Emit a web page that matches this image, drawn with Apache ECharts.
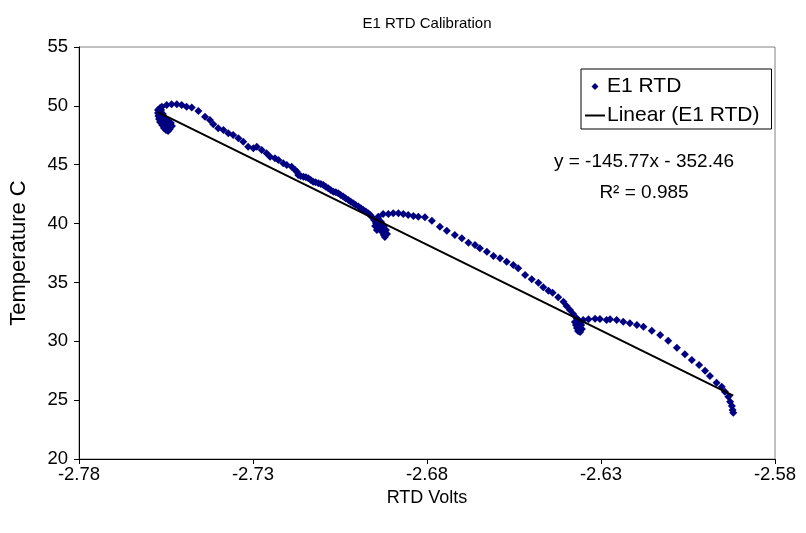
<!DOCTYPE html>
<html>
<head>
<meta charset="utf-8">
<title>E1 RTD Calibration</title>
<script src="https://cdn.jsdelivr.net/npm/echarts@6/dist/echarts.min.js"></script>
<style>
  html, body { margin: 0; padding: 0; background: #fff; }
  #chart { width: 806px; height: 533px; }
</style>
</head>
<body>
<div id="chart"></div>
<script>
  // [RTD volts, temperature C], section by section
  const holdNear49 = [
    [-2.7544, 47.87], [-2.7539, 48.04], [-2.7533, 48.29], [-2.7536, 48.55], [-2.7544, 48.72],
    [-2.7553, 48.97], [-2.7559, 49.31], [-2.7564, 49.65], [-2.7567, 49.82], [-2.7550, 47.95],
    [-2.7556, 48.12], [-2.7561, 48.38], [-2.7567, 48.63], [-2.7570, 48.89], [-2.7572, 49.14],
    [-2.7573, 49.40], [-2.7573, 49.65], [-2.7548, 48.20], [-2.7545, 48.45], [-2.7552, 48.60],
    [-2.7560, 48.80], [-2.7565, 49.00]
  ];
  const coolTo44 = [
    [-2.7562, 49.93], [-2.7548, 50.08], [-2.7534, 50.14], [-2.7519, 50.14], [-2.7505, 50.08],
    [-2.7491, 49.93], [-2.7476, 49.85], [-2.7457, 49.57], [-2.7438, 49.08], [-2.7424, 48.80],
    [-2.7414, 48.44], [-2.7400, 48.10], [-2.7385, 47.95], [-2.7371, 47.67], [-2.7357, 47.53],
    [-2.7342, 47.25], [-2.7328, 46.96], [-2.7314, 46.53], [-2.7299, 46.40], [-2.7289, 46.53],
    [-2.7275, 46.25], [-2.7261, 45.97], [-2.7251, 45.68], [-2.7237, 45.55], [-2.7227, 45.40],
    [-2.7213, 45.12], [-2.7203, 44.98], [-2.7189, 44.83], [-2.7174, 44.41]
  ];
  const coolTo40 = [
    [-2.7179, 44.55], [-2.7170, 44.13], [-2.7163, 44.05], [-2.7155, 43.98], [-2.7148, 43.93],
    [-2.7141, 43.85], [-2.7134, 43.70], [-2.7127, 43.56], [-2.7120, 43.50], [-2.7112, 43.42],
    [-2.7105, 43.36], [-2.7098, 43.28], [-2.7091, 43.12], [-2.7084, 43.00], [-2.7077, 42.86],
    [-2.7069, 42.71], [-2.7062, 42.66], [-2.7055, 42.57], [-2.7048, 42.43], [-2.7041, 42.29],
    [-2.7034, 42.15], [-2.7026, 42.00], [-2.7019, 41.86], [-2.7012, 41.72], [-2.7005, 41.58],
    [-2.6997, 41.44], [-2.6990, 41.30], [-2.6983, 41.16], [-2.6976, 41.02], [-2.6969, 40.88],
    [-2.6964, 40.74], [-2.6959, 40.59]
  ];
  const holdNear39 = [
    [-2.6952, 40.31], [-2.6947, 40.05], [-2.6941, 39.80], [-2.6935, 39.54], [-2.6929, 39.29],
    [-2.6924, 39.03], [-2.6921, 38.86], [-2.6915, 39.12], [-2.6918, 39.46], [-2.6924, 39.80],
    [-2.6932, 40.14], [-2.6941, 40.39], [-2.6944, 39.46], [-2.6949, 39.80]
  ];
  const coolTo36 = [
    [-2.6940, 40.59], [-2.6926, 40.82], [-2.6911, 40.82], [-2.6897, 40.88], [-2.6882, 40.88],
    [-2.6868, 40.82], [-2.6854, 40.73], [-2.6839, 40.65], [-2.6825, 40.59], [-2.6806, 40.54],
    [-2.6786, 40.25], [-2.6763, 39.74], [-2.6743, 39.40], [-2.6720, 39.03], [-2.6700, 38.75],
    [-2.6681, 38.38], [-2.6662, 38.18], [-2.6648, 37.90], [-2.6628, 37.61], [-2.6609, 37.25],
    [-2.6590, 37.05], [-2.6571, 36.76], [-2.6552, 36.48], [-2.6538, 36.20]
  ];
  const coolTo32 = [
    [-2.6518, 35.63], [-2.6499, 35.27], [-2.6480, 34.98], [-2.6466, 34.59], [-2.6451, 34.30],
    [-2.6439, 34.13], [-2.6423, 33.74], [-2.6408, 33.36], [-2.6399, 33.00], [-2.6389, 32.66],
    [-2.6380, 32.32], [-2.6370, 31.95]
  ];
  const holdNear31 = [
    [-2.6375, 31.64], [-2.6372, 31.38], [-2.6369, 31.13], [-2.6366, 30.88], [-2.6360, 30.79],
    [-2.6355, 31.05], [-2.6357, 31.38], [-2.6363, 31.72], [-2.6366, 31.81], [-2.6369, 31.47]
  ];
  const coolTo24 = [
    [-2.6351, 31.81], [-2.6336, 31.87], [-2.6317, 31.92], [-2.6303, 31.89], [-2.6284, 31.81],
    [-2.6274, 31.87], [-2.6255, 31.81], [-2.6236, 31.67], [-2.6217, 31.53], [-2.6197, 31.38],
    [-2.6178, 31.24], [-2.6154, 30.90], [-2.6130, 30.54], [-2.6107, 30.05], [-2.6082, 29.46],
    [-2.6059, 28.90], [-2.6039, 28.41], [-2.6018, 27.99], [-2.6001, 27.50], [-2.5987, 27.05],
    [-2.5968, 26.48], [-2.5953, 26.14], [-2.5944, 25.72], [-2.5934, 25.29], [-2.5929, 24.87],
    [-2.5924, 24.50], [-2.5922, 24.16], [-2.5920, 23.93]
  ];

  // linear trend end points (y = -145.77x - 352.46 over the data's x range)
  const trendPoints = [[-2.7573, 49.47], [-2.5920, 25.38]];
  const trendText = ['y = -145.77x - 352.46', 'R\u00B2 = 0.985'];

  const xTicks = [-2.78, -2.73, -2.68, -2.63, -2.58];
  const yMin = 20, yMax = 55, yStep = 5;

  const e1Rtd = [].concat(holdNear49, coolTo44, coolTo40, holdNear39, coolTo36, coolTo32, holdNear31, coolTo24);

  const font = 'Liberation Sans, Arial, sans-serif';
  const chart = echarts.init(document.getElementById('chart'), null, { renderer: 'canvas' });

  const option = {
    animation: false,
    backgroundColor: '#fff',
    textStyle: { fontFamily: font, color: '#000' },
    title: {
      text: 'E1 RTD Calibration',
      left: 427,
      top: 16,
      textAlign: 'center',
      padding: 0,
      textStyle: { fontFamily: font, fontSize: 15, fontWeight: 'normal', color: '#000' }
    },
    grid: {
      left: 79, right: 31, top: 47, bottom: 74,
      outerBoundsMode: 'none',
      show: true,
      borderColor: '#808080',
      borderWidth: 1,
      backgroundColor: '#fff'
    },
    legend: {
      orient: 'vertical',
      left: 581,
      top: 69,
      data: [
        { name: 'E1 RTD', icon: 'path://M0,-1L1,0L0,1L-1,0Z' },
        { name: 'Linear (E1 RTD)', itemStyle: { opacity: 0 } }
      ],
      borderColor: '#000',
      borderWidth: 1,
      borderRadius: 0,
      padding: [7, 12, 3, 3],
      itemGap: 8,
      itemWidth: 20,
      itemHeight: 7,
      textStyle: { fontFamily: font, fontSize: 21, color: '#000', padding: [0, 0, 0, -3] }
    },
    xAxis: {
      type: 'value',
      min: -2.78,
      max: -2.58,
      name: 'RTD Volts',
      nameLocation: 'middle',
      nameGap: 29,
      nameTextStyle: { fontFamily: font, fontSize: 18, color: '#000' },
      axisLine: { show: true, onZero: false, lineStyle: { color: '#000', width: 1 } },
      axisTick: { show: true, inside: false, length: 5, customValues: xTicks, lineStyle: { color: '#000' } },
      axisLabel: {
        customValues: xTicks,
        margin: 6,
        fontFamily: font, fontSize: 18.5, color: '#000',
        formatter: v => v.toFixed(2)
      },
      splitLine: { show: false }
    },
    yAxis: {
      type: 'value',
      min: yMin,
      max: yMax,
      interval: yStep,
      name: 'Temperature C',
      nameLocation: 'middle',
      nameGap: 49,
      nameTextStyle: { fontFamily: font, fontSize: 22, color: '#000' },
      axisLine: { show: true, onZero: false, lineStyle: { color: '#000', width: 1 } },
      axisTick: { show: true, inside: false, length: 5, lineStyle: { color: '#000' } },
      axisLabel: { margin: 11, fontFamily: font, fontSize: 18.5, color: '#000' },
      splitLine: { show: false }
    },
    series: [
      {
        name: 'E1 RTD',
        type: 'scatter',
        data: e1Rtd,
        symbol: 'diamond',
        symbolSize: 8,
        itemStyle: { color: '#000080', opacity: 1 },
        z: 2
      },
      {
        name: 'Linear (E1 RTD)',
        type: 'line',
        data: trendPoints,
        symbol: 'none',
        lineStyle: { color: '#000', width: 2 },
        itemStyle: { color: '#000' },
        z: 3
      }
    ],
    graphic: [
      {
        type: 'text', x: 644, y: 162,
        style: { text: trendText[0], font: '19px ' + font, fill: '#000', align: 'center', verticalAlign: 'middle' }
      },
      {
        type: 'text', x: 644, y: 193,
        style: { text: trendText[1], font: '19px ' + font, fill: '#000', align: 'center', verticalAlign: 'middle' }
      }
    ]
  };

  chart.setOption(option);
  window.onresize = function () {
    chart.resize();
  };
</script>
</body>
</html>
